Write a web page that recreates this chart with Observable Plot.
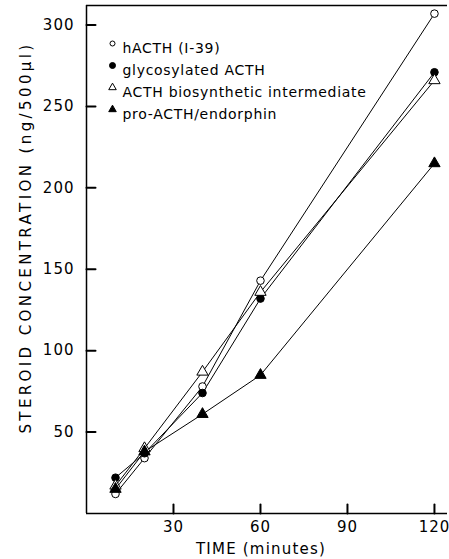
<!DOCTYPE html>
<html><head><meta charset="utf-8">
<script src="https://cdn.jsdelivr.net/npm/d3@7"></script>
<script src="https://cdn.jsdelivr.net/npm/@observablehq/plot@0.6"></script>
<style>
body{margin:0;background:#fff;}
#chart svg{font-family:"DejaVu Sans",sans-serif;}
g.ylab text{letter-spacing:3.4px;}
g.xlab text{letter-spacing:1.2px;}
g[aria-label="y-axis tick label"] text, g[aria-label="x-axis tick label"] text{letter-spacing:1px;}
g.legend text{letter-spacing:0.7px;}
</style></head><body><div id="chart"></div>
<script>
const times = [10, 20, 40, 60, 120];
const seriesNames = ["hACTH (I-39)", "glycosylated ACTH", "ACTH biosynthetic intermediate", "pro-ACTH/endorphin"];
const hACTH = [12, 34, 78, 143, 307];
const glyco = [22, 37, 74, 132, 271];
const inter = [17, 40, 87, 136, 266];
const pro = [15, 38, 61, 85, 215];
const xTicks = [30, 60, 90, 120];
const yTicks = [50, 100, 150, 200, 250, 300];
const xLabel = "TIME (minutes)";
const yLabel = "STEROID CONCENTRATION (ng/500μl)";
const symbols = ["circle", "circle", "triangle", "triangle"];
const fills = ["white", "black", "white", "black"];
const xMax = 124.5, yMax = 312;

const W = 449, H = 559, mL = 86, mR = 2, mT = 5, mB = 46;
const tickLen = 9;
const xTickLenData = xMax * tickLen / (W - mL - mR);
const yTickLenData = yMax * tickLen / (H - mT - mB);

const values = [hACTH, glyco, inter, pro];
const data = values.flatMap((vals, i) => vals.map((v, j) => ({series: seriesNames[i], t: times[j], v, k: i})));
const xTickData = xTicks.map(t => ({t, a: 0, b: yTickLenData}));
const yTickData = yTicks.map(v => ({v, a: 0, b: xTickLenData}));

const legendMarks = seriesNames.flatMap((s, i) => [
  Plot.dot([s], {frameAnchor: "top-left", dx: 26, dy: 38 + i * 22, symbol: symbols[i], fill: fills[i], stroke: "black", strokeWidth: 1, r: i === 0 ? 2.5 : i === 1 ? 3 : 2.8, className: "legend"}),
  Plot.text([s], {frameAnchor: "top-left", dx: 36, dy: 38 + i * 22, text: d => d, textAnchor: "start", fontSize: 14, fill: "black", className: "legend"})
]);

const chart = Plot.plot({
  width: W,
  height: H,
  marginLeft: mL,
  marginRight: mR,
  marginTop: mT,
  marginBottom: mB,
  style: {fontFamily: "DejaVu Sans", fontSize: "14px", color: "black", background: "white"},
  x: {domain: [0, xMax]},
  y: {domain: [0, yMax]},
  marks: [
    Plot.ruleX([0], {stroke: "black", strokeWidth: 1.5}),
    Plot.ruleY([0], {stroke: "black", strokeWidth: 1.5}),
    Plot.ruleY([yMax], {stroke: "black", strokeWidth: 1.3}),
    Plot.axisX({ticks: xTicks, tickSize: 0, tickPadding: 8, fontSize: 15, label: null, tickFormat: d => String(d)}),
    Plot.axisY({ticks: yTicks, tickSize: 0, tickPadding: 12, fontSize: 15, label: null, tickFormat: d => String(d)}),
    Plot.line(xTickData.flatMap(d => [{x: d.t, y: d.a, id: d.t}, {x: d.t, y: d.b, id: d.t}]), {x: "x", y: "y", z: "id", stroke: "black", strokeWidth: 2}),
    Plot.line(yTickData.flatMap(d => [{x: d.a, y: d.v, id: d.v}, {x: d.b, y: d.v, id: d.v}]), {x: "x", y: "y", z: "id", stroke: "black", strokeWidth: 2}),
    Plot.text([xLabel], {frameAnchor: "bottom", dx: -6, dy: 36, lineAnchor: "middle", textAnchor: "middle", text: d => d, fontSize: 15, fill: "black", className: "xlab"}),
    Plot.text([yLabel], {frameAnchor: "left", dx: -60, dy: -22, rotate: -90, textAnchor: "middle", lineAnchor: "middle", text: d => d, fontSize: 15, fill: "black", className: "ylab"}),
    Plot.line(data, {x: "t", y: "v", z: "series", stroke: "black", strokeWidth: 1}),
    ...seriesNames.map((s, i) => Plot.dot(data.filter(d => d.k === i), {x: "t", y: "v", symbol: symbols[i], fill: fills[i], stroke: "black", strokeWidth: 1, r: i < 2 ? 3.8 : 4.2})),
    ...legendMarks
  ]
});
document.getElementById("chart").append(chart);
</script></body></html>
